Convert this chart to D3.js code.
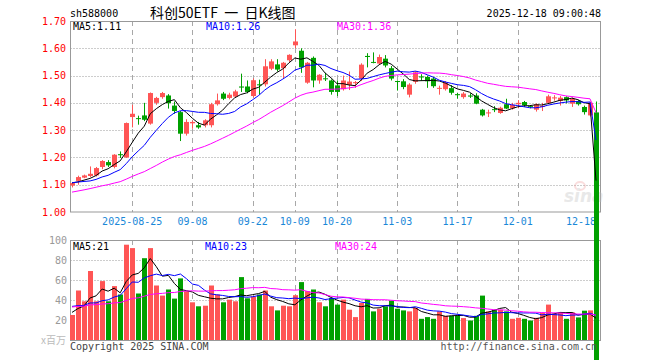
<!DOCTYPE html>
<html><head><meta charset="utf-8">
<script src="https://cdn.jsdelivr.net/npm/d3@7/dist/d3.min.js"></script>
<style>body{margin:0;background:#fff}svg{display:block}</style>
</head><body><svg id="c" width="660" height="360"></svg>
<script>
// ---------- data ----------
const dates = [
 "08-11","08-12","08-13","08-14","08-15","08-18","08-19","08-20","08-21","08-22",
 "08-25","08-26","08-27","08-28","08-29","09-01","09-02","09-03","09-04","09-05",
 "09-08","09-09","09-10","09-11","09-12","09-15","09-16","09-17","09-18","09-19",
 "09-22","09-23","09-24","09-25","09-26","09-29","09-30","10-09","10-10","10-13",
 "10-14","10-15","10-16","10-17","10-20","10-21","10-22","10-23","10-24","10-27",
 "10-28","10-29","10-30","10-31","11-03","11-04","11-05","11-06","11-07","11-10",
 "11-11","11-12","11-13","11-14","11-17","11-18","11-19","11-20","11-21","11-24",
 "11-25","11-26","11-27","11-28","12-01","12-02","12-03","12-04","12-05","12-08",
 "12-09","12-10","12-11","12-12","12-15","12-16","12-17","12-18"];
const open = [1.097,1.114,1.126,1.132,1.134,1.165,1.183,1.165,1.212,1.200,
 1.348,1.344,1.354,1.324,1.400,1.421,1.427,1.390,1.366,1.287,
 1.325,1.318,1.318,1.318,1.395,1.434,1.418,1.423,1.460,1.460,
 1.425,1.468,1.468,1.525,1.541,1.527,1.556,1.611,1.591,1.474,
 1.565,1.482,1.490,1.482,1.464,1.450,1.466,1.472,1.489,1.572,
 1.550,1.544,1.562,1.527,1.480,1.479,1.430,1.477,1.497,1.495,
 1.489,1.452,1.450,1.454,1.432,1.421,1.427,1.427,1.375,1.362,
 1.377,1.363,1.395,1.380,1.395,1.403,1.388,1.375,1.385,1.400,
 1.417,1.407,1.421,1.397,1.407,1.385,1.354,1.365];
const high = [1.110,1.133,1.137,1.167,1.165,1.190,1.190,1.212,1.222,1.328,
 1.393,1.353,1.400,1.438,1.422,1.440,1.432,1.405,1.370,1.340,
 1.335,1.330,1.340,1.400,1.434,1.440,1.437,1.448,1.507,1.482,
 1.490,1.485,1.560,1.560,1.560,1.550,1.578,1.670,1.600,1.550,
 1.570,1.505,1.510,1.486,1.482,1.500,1.515,1.480,1.545,1.582,
 1.585,1.577,1.575,1.535,1.482,1.487,1.472,1.516,1.505,1.500,
 1.495,1.463,1.480,1.465,1.437,1.440,1.435,1.435,1.378,1.375,
 1.388,1.386,1.415,1.400,1.410,1.407,1.392,1.398,1.400,1.430,
 1.428,1.425,1.424,1.420,1.410,1.390,1.405,1.405];
const low = [1.090,1.100,1.124,1.128,1.130,1.157,1.165,1.160,1.198,1.198,
 1.310,1.320,1.333,1.320,1.393,1.415,1.379,1.360,1.260,1.280,
 1.305,1.305,1.310,1.310,1.390,1.410,1.413,1.418,1.440,1.435,
 1.420,1.430,1.460,1.520,1.515,1.490,1.550,1.600,1.510,1.470,
 1.457,1.470,1.480,1.430,1.425,1.445,1.447,1.455,1.480,1.530,
 1.545,1.540,1.530,1.482,1.445,1.450,1.420,1.470,1.480,1.455,
 1.455,1.430,1.445,1.430,1.415,1.415,1.418,1.395,1.350,1.348,
 1.366,1.360,1.377,1.375,1.380,1.385,1.380,1.368,1.370,1.398,
 1.408,1.390,1.398,1.385,1.390,1.357,1.350,0];
const close = [1.106,1.128,1.134,1.140,1.161,1.187,1.171,1.210,1.208,1.326,
 1.360,1.341,1.338,1.436,1.418,1.436,1.399,1.370,1.287,1.330,
 1.330,1.310,1.336,1.395,1.409,1.415,1.430,1.442,1.456,1.440,
 1.483,1.465,1.534,1.552,1.522,1.547,1.576,1.625,1.530,1.547,
 1.482,1.503,1.487,1.440,1.440,1.482,1.478,1.476,1.540,1.568,
 1.547,1.568,1.537,1.489,1.477,1.458,1.467,1.512,1.493,1.479,
 1.461,1.455,1.474,1.437,1.428,1.434,1.423,1.397,1.354,1.365,
 1.374,1.382,1.379,1.393,1.400,1.391,1.386,1.395,1.389,1.424,
 1.420,1.419,1.409,1.415,1.395,1.366,1.400,0];
const volume = [25,49.5,38.7,69,38.7,58.9,38.7,53.9,45.5,95.3,
 91.9,46.5,81.8,91.9,54.5,44.4,50.5,41.4,61.6,48.8,
 37.7,33.7,34.3,54.5,45.5,37.7,40.4,38.7,62.9,41.7,
 43.4,45.5,49.5,33.7,29.6,34.3,33.7,44.8,57.9,48.8,
 50.5,37.7,33.7,42.1,35.4,40.4,30.3,22.9,37,41.1,
 28.6,31.3,33.7,39.4,31.3,29.6,28.6,32,21.2,22.9,
 21.2,28.6,24.2,24.2,24.2,21.9,19.5,24.2,44.4,28.6,
 30.3,30.3,28.6,21.2,22.2,21.2,19.5,22.2,27,35.4,
 26.3,27,21.2,27.6,22.6,29.3,29.6,0];
// earlier sessions (before the first candle), only used for the moving averages
const priorCloses = [1.005,1.010,0.998,1.012,1.030,1.045,1.040,1.052,1.048,1.060,
 1.070,1.085,1.090,1.078,1.065,1.072,1.088,1.095,1.080,1.091,
 1.100,1.115,1.120,1.105,1.098,1.110,1.102,1.108,1.108];
const priorVolumes = [30,35,28,33,38,31,29,36,34,30,27,33,40,35,31,29,37,32,34,32,
 42,36,45,38,37,30,26,29,28];

const priceTicks = [1.00,1.10,1.20,1.30,1.40,1.50,1.60,1.70];
const volTicks = [20,40,60,80,100];
const dateTicks = ["08-25","09-08","09-22","10-09","10-20","11-03","11-17","12-01","12-18"];
const dateTickLabels = ["2025-08-25","09-08","09-22","10-09","10-20","11-03","11-17","12-01","12-18"];
const maPeriods = [5,10,30];
const maColors = ["#000000","#0000ff","#ff00ff"];
const priceMALabels = ["MA5:1.11","MA10:1.26","MA30:1.36"];
const volMALabels = ["MA5:21","MA10:23","MA30:24"];
const headerLeft = "sh588000";
const headerTitle = "科创50ETF 一 日K线图";
const headerTime = "2025-12-18 09:00:48";

// ---------- drawing ----------
const svg = d3.select("#c");
const mono = "'DejaVu Sans Mono', 'Liberation Mono', monospace";
const RED = "#ff5555", GREEN = "#00a000";
const L = 70.5, R = 600.5;
const x = d3.scalePoint().domain(dates).range([72, 596]);
const y = d3.scaleLinear().domain([1.0, 1.7]).range([212, 21]);
const yv = d3.scaleLinear().domain([0, 100]).range([340, 240]);

// grids
const g = svg.append("g");
[[y, priceTicks.slice(1,-1)], [yv, volTicks.slice(0,-1)]].forEach(([sc, ticks]) => {
  g.selectAll(null).data(ticks).enter().append("line")
    .attr("x1", L).attr("x2", R)
    .attr("y1", d => Math.round(sc(d)) + 0.5).attr("y2", d => Math.round(sc(d)) + 0.5)
    .attr("stroke", "#9a9a9a").attr("stroke-dasharray", "1,2");
});
const vt = dateTicks.slice(0, -1);
[[21, 212], [240, 340]].forEach(([a, b]) => {
  g.selectAll(null).data(vt).enter().append("line")
    .attr("x1", d => Math.round(x(d)) + 0.5).attr("x2", d => Math.round(x(d)) + 0.5)
    .attr("y1", a).attr("y2", b)
    .attr("stroke", "#a8a8a8").attr("stroke-dasharray", "5,4");
});
// frames
g.append("rect").attr("x", L).attr("y", 21.5).attr("width", R - L).attr("height", 190.5)
  .attr("fill", "none").attr("stroke", "#999");
g.append("rect").attr("x", L).attr("y", 240.5).attr("width", R - L).attr("height", 100)
  .attr("fill", "none").attr("stroke", "#999");

// axis labels
svg.append("g").selectAll("text").data(priceTicks).enter().append("text")
  .attr("x", 66).attr("y", d => y(d)).attr("dy", "0.35em").attr("text-anchor", "end")
  .attr("font-family", mono).attr("font-size", 10).attr("fill", "#ff0000")
  .text(d => d.toFixed(2));
svg.append("g").selectAll("text").data(volTicks).enter().append("text")
  .attr("x", 67).attr("y", d => yv(d)).attr("dy", "0.35em").attr("text-anchor", "end")
  .attr("font-family", mono).attr("font-size", 10).attr("fill", "#999")
  .text(d => d);
svg.append("text").attr("x", 66).attr("y", 340).attr("dy", "0.35em").attr("text-anchor", "end")
  .attr("font-family", "'Noto Sans CJK SC', sans-serif").attr("font-size", 10).attr("fill", "#bbb")
  .text("x百万");
svg.append("g").selectAll("text").data(dateTicks).enter().append("text")
  .attr("x", (d, i) => i === dateTicks.length - 1 ? 596 : x(d))
  .attr("y", 225).attr("text-anchor", (d, i) => i === dateTicks.length - 1 ? "end" : "middle")
  .attr("font-family", mono).attr("font-size", 10).attr("fill", "#1a88d8")
  .text((d, i) => dateTickLabels[i]);

// watermark
const wm = svg.append("g").attr("opacity", 0.35);
wm.append("ellipse").attr("cx", 580).attr("cy", 186).attr("rx", 5).attr("ry", 4)
  .attr("fill", "none").attr("stroke", "#f2a0a0").attr("stroke-width", 2);
wm.append("text").attr("x", 564).attr("y", 202).attr("font-family", "'DejaVu Sans', sans-serif")
  .attr("font-size", 17).attr("font-style", "italic").attr("font-weight", "bold")
  .attr("fill", "#c0c0c0").text("sina");

// volume bars
const idx = d3.range(dates.length);
const up = i => close[i] >= open[i];
svg.append("g").selectAll("rect").data(idx).enter().append("rect")
  .attr("x", i => Math.round(x(dates[i])) - 2).attr("width", 5)
  .attr("y", i => yv(volume[i])).attr("height", i => yv(0) - yv(volume[i]))
  .attr("fill", i => up(i) ? RED : GREEN);

// candles
const cg = svg.append("g");
cg.selectAll("line").data(idx).enter().append("line")
  .attr("x1", i => Math.round(x(dates[i])) + 0.5).attr("x2", i => Math.round(x(dates[i])) + 0.5)
  .attr("y1", i => y(high[i])).attr("y2", i => y(low[i]))
  .attr("stroke", i => up(i) ? RED : GREEN);
cg.selectAll("rect").data(idx).enter().append("rect")
  .attr("x", i => Math.round(x(dates[i])) - 2).attr("width", 5)
  .attr("y", i => y(Math.max(open[i], close[i])))
  .attr("height", i => Math.max(1, Math.abs(y(open[i]) - y(close[i]))))
  .attr("fill", i => up(i) ? RED : GREEN);

// moving averages
function movingAvg(prior, vals, n) {
  const all = prior.concat(vals), off = prior.length;
  return idx.map(i => d3.mean(all.slice(i + off - n + 1, i + off + 1)));
}
maPeriods.forEach((n, k) => {
  const mp = movingAvg(priorCloses, close, n);
  svg.append("path").datum(idx)
    .attr("d", d3.line().x(i => x(dates[i])).y(i => y(mp[i])))
    .attr("fill", "none").attr("stroke", maColors[k]).attr("stroke-width", 1);
  const mv = movingAvg(priorVolumes, volume, n);
  svg.append("path").datum(idx)
    .attr("d", d3.line().x(i => x(dates[i])).y(i => yv(mv[i])))
    .attr("fill", "none").attr("stroke", maColors[k]).attr("stroke-width", 1);
});

// MA legends
const lx = [73, 206, 337];
svg.append("g").selectAll("text").data(priceMALabels).enter().append("text")
  .attr("x", (d, i) => lx[i]).attr("y", 30).attr("font-family", mono).attr("font-size", 10)
  .attr("fill", (d, i) => maColors[i]).text(d => d);
svg.append("g").selectAll("text").data(volMALabels).enter().append("text")
  .attr("x", (d, i) => [73, 205, 335][i]).attr("y", 250).attr("font-family", mono).attr("font-size", 10)
  .attr("fill", (d, i) => maColors[i]).text(d => d);

// header & footer
svg.append("text").attr("x", 70).attr("y", 17).attr("font-family", mono).attr("font-size", 10)
  .attr("fill", "#000").text(headerLeft);
svg.append("text").attr("x", 150).attr("y", 18).attr("font-family", "'Noto Sans CJK SC', sans-serif")
  .attr("font-size", 14).attr("fill", "#000").attr("xml:space", "preserve")
  .text(headerTitle.replace(" 一 ", "  一  "));
svg.append("text").attr("x", 601).attr("y", 17).attr("text-anchor", "end").attr("font-family", mono)
  .attr("font-size", 10).attr("fill", "#000").text(headerTime);
svg.append("text").attr("x", 70).attr("y", 349.5).attr("font-family", mono).attr("font-size", 10)
  .attr("fill", "#444").text("Copyright 2025 SINA.COM");
svg.append("text").attr("x", 597).attr("y", 349.5).attr("text-anchor", "end").attr("font-family", mono)
  .attr("font-size", 10).attr("fill", "#555").text("http://finance.sina.com.cn");
</script></body></html>
